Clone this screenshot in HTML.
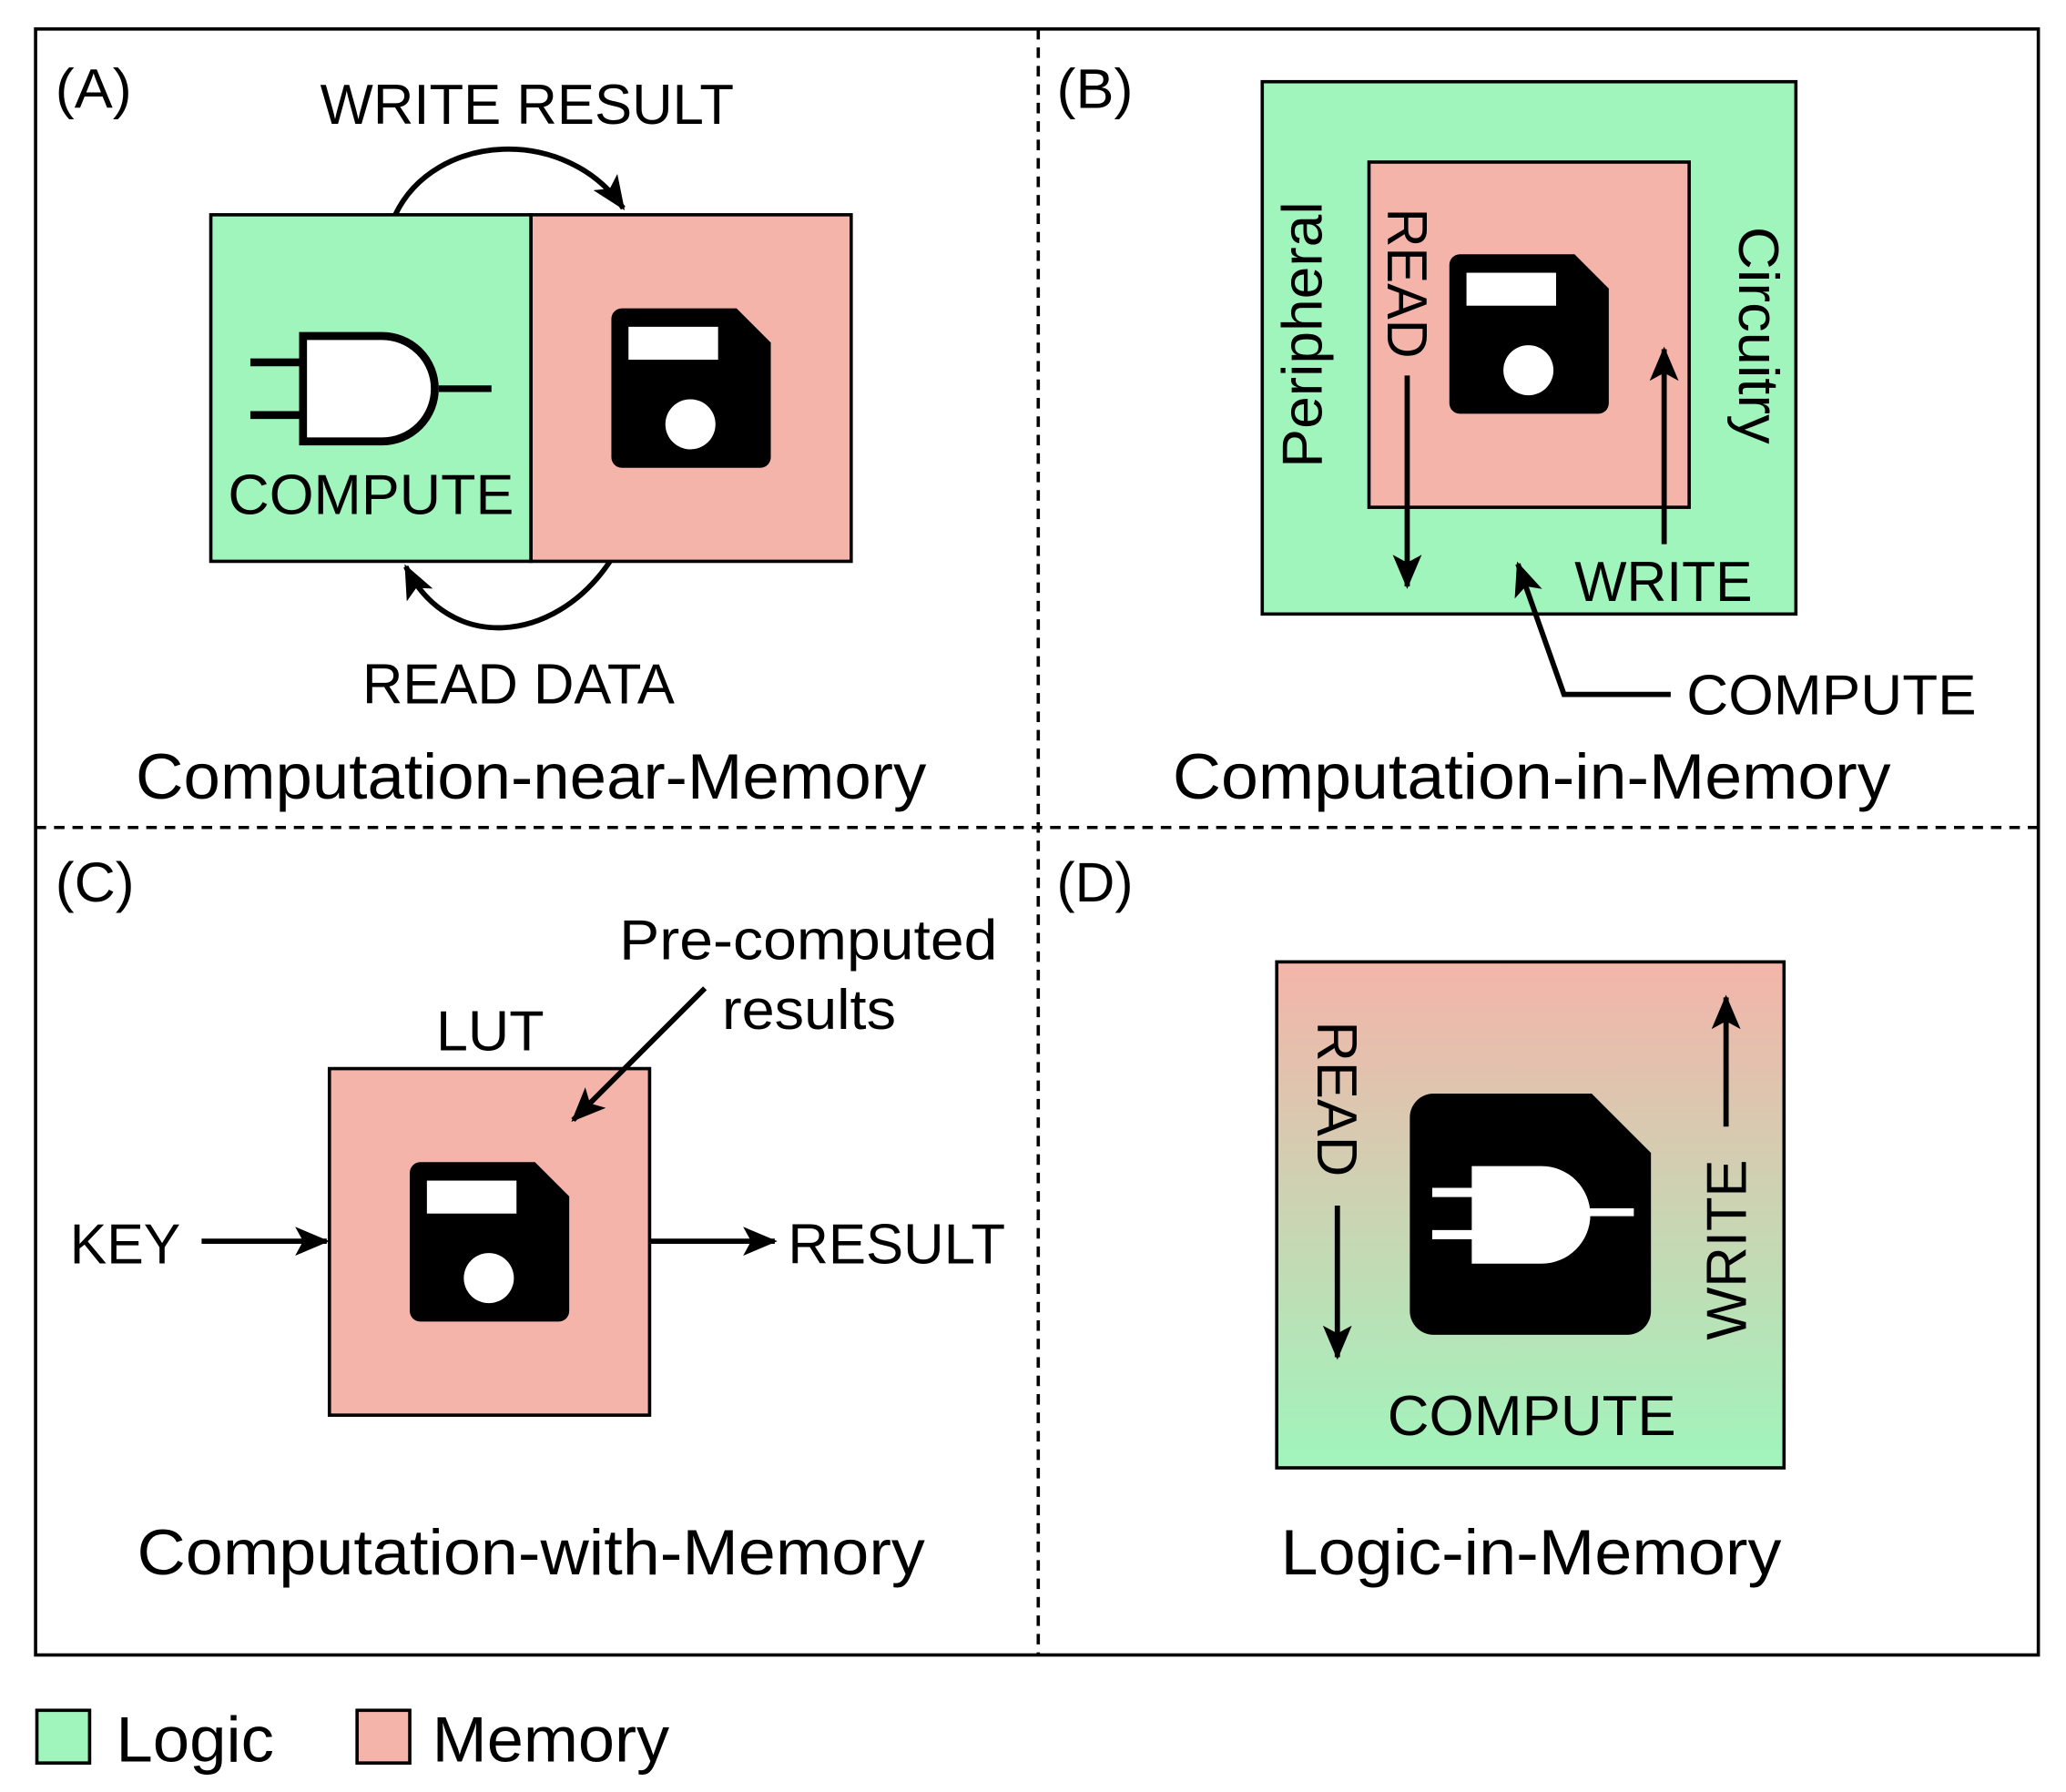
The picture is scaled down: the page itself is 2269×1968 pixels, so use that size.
<!DOCTYPE html>
<html><head><meta charset="utf-8"><style>
html,body{margin:0;padding:0;background:#fff;}
svg{display:block;}
text{font-family:"Liberation Sans",Arial,sans-serif;fill:#000;}
</style></head><body>
<svg width="2269" height="1968" viewBox="0 0 1568 1360" xmlns="http://www.w3.org/2000/svg">
<defs>
<marker id="ah2" markerWidth="26" markerHeight="22" refX="24" refY="11" orient="auto" markerUnits="userSpaceOnUse" viewBox="0 0 26 22">
<path d="M0,0 L26,11 L0,22 L6,11 z" fill="#000"/>
</marker>
<linearGradient id="gd" x1="0" y1="0" x2="0" y2="1">
<stop offset="0" stop-color="#f4b4aa"/><stop offset="1" stop-color="#a0f5bc"/>
</linearGradient>
<g id="fl">
<path d="M8,0 H95 L121,26 V113 a8,8 0 0 1 -8,8 H8 a8,8 0 0 1 -8,-8 V8 a8,8 0 0 1 8,-8z" fill="#000"/>
<rect x="13" y="14" width="68" height="25" fill="#fff"/>
<circle cx="60" cy="88" r="19" fill="#fff"/>
</g>
</defs>
<rect x="27" y="22" width="1520" height="1234" fill="none" stroke="#000" stroke-width="2.5"/>
<line x1="788" y1="22" x2="788" y2="1256" stroke="#000" stroke-width="2.5" stroke-dasharray="8,6"/>
<line x1="27" y1="628" x2="1547" y2="628" stroke="#000" stroke-width="2.5" stroke-dasharray="8,6"/>

<!-- A -->
<text x="42" y="82" font-size="42" textLength="58" lengthAdjust="spacingAndGlyphs">(A)</text>
<text x="243" y="94" font-size="43" textLength="314" lengthAdjust="spacingAndGlyphs">WRITE RESULT</text>
<rect x="160" y="163" width="243" height="263" fill="#a0f5bc" stroke="#000" stroke-width="2.5"/>
<rect x="403" y="163" width="243" height="263" fill="#f4b4aa" stroke="#000" stroke-width="2.5"/>
<path d="M300,163 C330,100 430,95 473,158" fill="none" stroke="#000" stroke-width="4" marker-end="url(#ah2)"/>
<path d="M463,426 C420,490 340,495 308,430" fill="none" stroke="#000" stroke-width="4" marker-end="url(#ah2)"/>
<line x1="190" y1="275" x2="230" y2="275" stroke="#000" stroke-width="6"/>
<line x1="190" y1="315" x2="230" y2="315" stroke="#000" stroke-width="6"/>
<line x1="333" y1="295" x2="373" y2="295" stroke="#000" stroke-width="5"/>
<path d="M230,255 H290 A40,40 0 0 1 290,335 H230 Z" fill="#fff" stroke="#000" stroke-width="6"/>
<text x="173" y="390" font-size="43" textLength="217" lengthAdjust="spacingAndGlyphs">COMPUTE</text>
<use href="#fl" x="464" y="234"/>
<text x="275" y="534" font-size="43" textLength="237" lengthAdjust="spacingAndGlyphs">READ DATA</text>
<text x="103" y="606" font-size="49" textLength="600" lengthAdjust="spacingAndGlyphs">Computation-near-Memory</text>

<!-- B -->
<text x="802" y="82" font-size="42" textLength="58" lengthAdjust="spacingAndGlyphs">(B)</text>
<rect x="958" y="62" width="405" height="404" fill="#a0f5bc" stroke="#000" stroke-width="2.5"/>
<rect x="1039" y="123" width="243" height="262" fill="#f4b4aa" stroke="#000" stroke-width="2.5"/>
<use href="#fl" x="1100" y="193"/>
<text transform="translate(1003,355) rotate(-90)" font-size="43" textLength="202" lengthAdjust="spacingAndGlyphs">Peripheral</text>
<text transform="translate(1320,172) rotate(90)" font-size="43" textLength="165" lengthAdjust="spacingAndGlyphs">Circuitry</text>
<text transform="translate(1053,158) rotate(90)" font-size="43" textLength="114" lengthAdjust="spacingAndGlyphs">READ</text>
<line x1="1068" y1="285" x2="1068" y2="445" stroke="#000" stroke-width="4" marker-end="url(#ah2)"/>
<line x1="1263" y1="413" x2="1263" y2="265" stroke="#000" stroke-width="4" marker-end="url(#ah2)"/>
<text x="1195" y="456" font-size="43" textLength="135" lengthAdjust="spacingAndGlyphs">WRITE</text>
<polyline points="1268,527 1187,527 1152,428" fill="none" stroke="#000" stroke-width="4" marker-end="url(#ah2)"/>
<text x="1280" y="542" font-size="43" textLength="220" lengthAdjust="spacingAndGlyphs">COMPUTE</text>
<text x="890" y="606" font-size="49" textLength="545" lengthAdjust="spacingAndGlyphs">Computation-in-Memory</text>

<!-- C -->
<text x="42" y="684" font-size="42" textLength="60" lengthAdjust="spacingAndGlyphs">(C)</text>
<text x="331" y="797" font-size="43" textLength="82" lengthAdjust="spacingAndGlyphs">LUT</text>
<rect x="250" y="811" width="243" height="263" fill="#f4b4aa" stroke="#000" stroke-width="2.5"/>
<use href="#fl" x="311" y="882"/>
<text x="470" y="728" font-size="43" textLength="287" lengthAdjust="spacingAndGlyphs">Pre-computed</text>
<text x="548" y="781" font-size="43" textLength="132" lengthAdjust="spacingAndGlyphs">results</text>
<line x1="535" y1="750" x2="435" y2="850" stroke="#000" stroke-width="4" marker-end="url(#ah2)"/>
<text x="53" y="959" font-size="43" textLength="84" lengthAdjust="spacingAndGlyphs">KEY</text>
<line x1="153" y1="942" x2="248" y2="942" stroke="#000" stroke-width="4" marker-end="url(#ah2)"/>
<line x1="493" y1="942" x2="588" y2="942" stroke="#000" stroke-width="4" marker-end="url(#ah2)"/>
<text x="598" y="959" font-size="43" textLength="165" lengthAdjust="spacingAndGlyphs">RESULT</text>
<text x="104" y="1195" font-size="49" textLength="598" lengthAdjust="spacingAndGlyphs">Computation-with-Memory</text>

<!-- D -->
<text x="802" y="684" font-size="42" textLength="58" lengthAdjust="spacingAndGlyphs">(D)</text>
<rect x="969" y="730" width="385" height="384" fill="url(#gd)" stroke="#000" stroke-width="2.5"/>
<path d="M1085,830 H1208 L1253,875 V995 a18,18 0 0 1 -18,18 H1088 a18,18 0 0 1 -18,-18 V848 a18,18 0 0 1 18,-18z" fill="#000"/>
<line x1="1087" y1="905" x2="1122" y2="905" stroke="#fff" stroke-width="7"/>
<line x1="1087" y1="937" x2="1122" y2="937" stroke="#fff" stroke-width="7"/>
<line x1="1205" y1="920" x2="1240" y2="920" stroke="#fff" stroke-width="6"/>
<path d="M1117,885 H1170 A37,37 0 0 1 1170,959 H1117 Z" fill="#fff"/>
<text transform="translate(1000,775) rotate(90)" font-size="43" textLength="118" lengthAdjust="spacingAndGlyphs">READ</text>
<line x1="1015" y1="915" x2="1015" y2="1030" stroke="#000" stroke-width="4" marker-end="url(#ah2)"/>
<text transform="translate(1325,1017) rotate(-90)" font-size="43" textLength="137" lengthAdjust="spacingAndGlyphs">WRITE</text>
<line x1="1310" y1="855" x2="1310" y2="757" stroke="#000" stroke-width="4" marker-end="url(#ah2)"/>
<text x="1053" y="1089" font-size="43" textLength="219" lengthAdjust="spacingAndGlyphs">COMPUTE</text>
<text x="972" y="1195" font-size="49" textLength="380" lengthAdjust="spacingAndGlyphs">Logic-in-Memory</text>

<!-- legend -->
<rect x="28" y="1298" width="40" height="40" fill="#a0f5bc" stroke="#000" stroke-width="2.5"/>
<text x="88" y="1337" font-size="49" textLength="120" lengthAdjust="spacingAndGlyphs">Logic</text>
<rect x="271" y="1298" width="40" height="40" fill="#f4b4aa" stroke="#000" stroke-width="2.5"/>
<text x="328" y="1337" font-size="49" textLength="180" lengthAdjust="spacingAndGlyphs">Memory</text>
</svg>
</body></html>
